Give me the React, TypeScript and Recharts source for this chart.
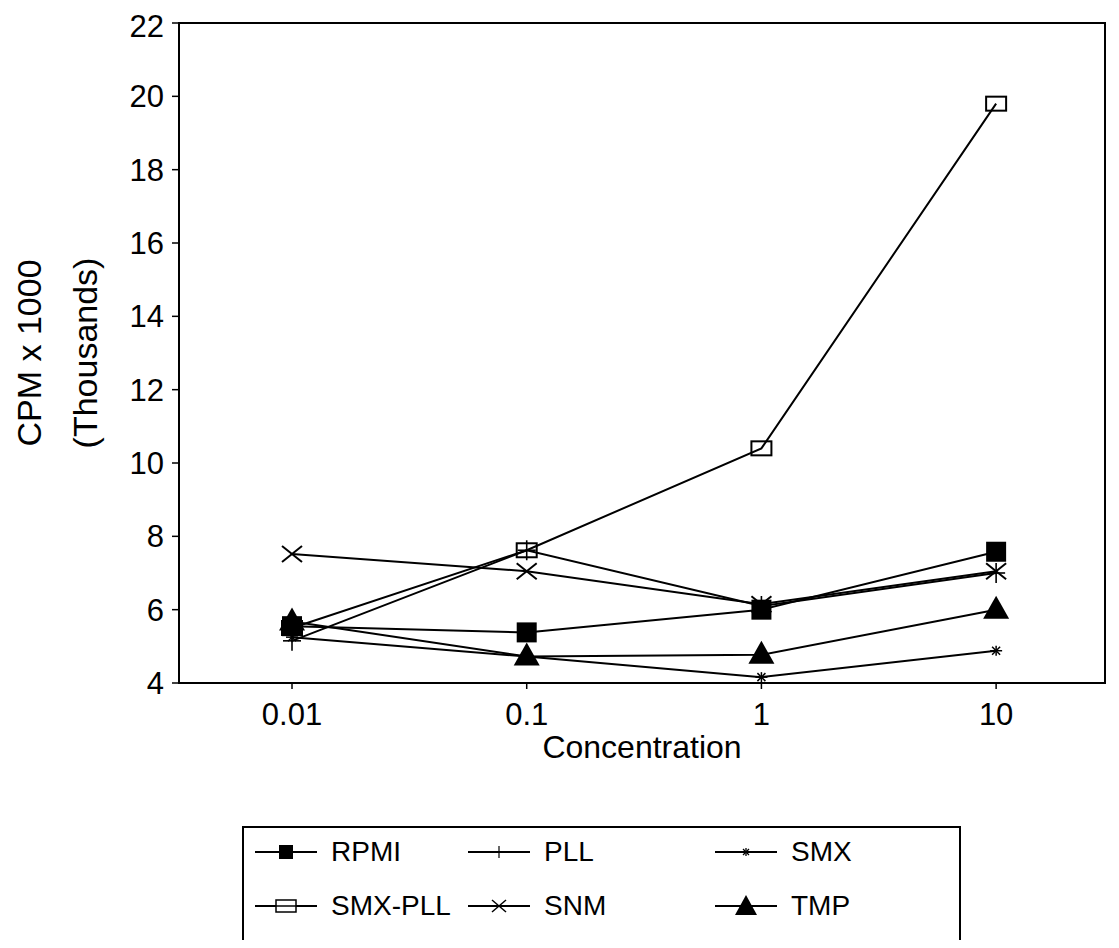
import React from 'react';
import { LineChart, Line, XAxis, YAxis, ReferenceArea, Legend, Label } from 'recharts';

const concentrations = [0.01, 0.1, 1, 10];
const rpmi = [5.55, 5.38, 6.0, 7.58];
const pll = [5.15, 7.62, 6.1, 7.0];
const smx = [5.25, 4.72, 4.16, 4.88];
const smxPll = [5.5, 7.62, 10.4, 19.8];
const snm = [7.52, 7.05, 6.15, 7.05];
const tmp = [5.68, 4.72, 4.77, 6.0];

const yTicks = [4, 6, 8, 10, 12, 14, 16, 18, 20, 22];
const xTicks = [0.01, 0.1, 1, 10];
const xDomain = [0.0033, 29.1];
const yDomain = [4, 22];

const FONT = '"Liberation Sans", Arial, Helvetica, sans-serif';

type Shape = 'square' | 'plus' | 'star' | 'openRect' | 'cross' | 'triangle';

const seriesDefs: { key: string; name: string; values: number[]; shape: Shape }[] = [
  { key: 'rpmi', name: 'RPMI', values: rpmi, shape: 'square' },
  { key: 'pll', name: 'PLL', values: pll, shape: 'plus' },
  { key: 'smx', name: 'SMX', values: smx, shape: 'star' },
  { key: 'smxPll', name: 'SMX-PLL', values: smxPll, shape: 'openRect' },
  { key: 'snm', name: 'SNM', values: snm, shape: 'cross' },
  { key: 'tmp', name: 'TMP', values: tmp, shape: 'triangle' },
];

const data = concentrations.map((c, i) => {
  const row: Record<string, number> = { conc: c };
  seriesDefs.forEach((s) => {
    row[s.key] = s.values[i];
  });
  return row;
});

function Marker({ shape, cx, cy }: { shape: Shape; cx: number; cy: number }) {
  if (cx == null || cy == null) return null;
  switch (shape) {
    case 'square':
      return <rect x={cx - 10} y={cy - 10} width={20} height={20} fill="#000" />;
    case 'plus':
      return (
        <g stroke="#000" strokeWidth={1.6}>
          <line x1={cx - 9} y1={cy} x2={cx + 9} y2={cy} />
          <line x1={cx} y1={cy - 10} x2={cx} y2={cy + 10} />
        </g>
      );
    case 'star':
      return (
        <g stroke="#000" strokeWidth={1.5}>
          <line x1={cx - 6} y1={cy} x2={cx + 6} y2={cy} />
          <line x1={cx - 4} y1={cy - 4} x2={cx + 4} y2={cy + 4} />
          <line x1={cx - 4} y1={cy + 4} x2={cx + 4} y2={cy - 4} />
          <line x1={cx} y1={cy - 5} x2={cx} y2={cy + 5} />
        </g>
      );
    case 'openRect':
      return (
        <g stroke="#000" fill="none" strokeWidth={2}>
          <rect x={cx - 10} y={cy - 7} width={20} height={14} />
        </g>
      );
    case 'cross':
      return (
        <g stroke="#000" strokeWidth={2}>
          <line x1={cx - 10} y1={cy - 8} x2={cx + 10} y2={cy + 8} />
          <line x1={cx - 10} y1={cy + 8} x2={cx + 10} y2={cy - 8} />
        </g>
      );
    case 'triangle':
      return <polygon points={`${cx},${cy - 14} ${cx + 13},${cy + 9} ${cx - 13},${cy + 9}`} fill="#000" />;
    default:
      return null;
  }
}

function LegendSample({ shape }: { shape: Shape }) {
  return (
    <svg width={62} height={30} style={{ display: 'block' }}>
      <line x1={0} y1={15} x2={62} y2={15} stroke="#000" strokeWidth={2} />
      {shape === 'openRect' ? (
        <g stroke="#000" fill="#fff" strokeWidth={1.5}>
          <rect x={21} y={9} width={20} height={12} />
          <line x1={21} y1={15} x2={41} y2={15} />
        </g>
      ) : shape === 'square' ? (
        <rect x={24} y={8} width={14} height={14} fill="#000" />
      ) : shape === 'triangle' ? (
        <polygon points="31,4 42,24 20,24" fill="#000" />
      ) : shape === 'cross' ? (
        <g stroke="#000" strokeWidth={1.5}>
          <line x1={24} y1={9} x2={38} y2={21} />
          <line x1={24} y1={21} x2={38} y2={9} />
        </g>
      ) : shape === 'plus' ? (
        <g stroke="#000" strokeWidth={1.2}>
          <line x1={31} y1={9} x2={31} y2={21} />
        </g>
      ) : (
        <g stroke="#000" strokeWidth={1.3}>
          <line x1={31} y1={11} x2={31} y2={19} />
          <line x1={28} y1={12} x2={34} y2={18} />
          <line x1={28} y1={18} x2={34} y2={12} />
        </g>
      )}
    </svg>
  );
}

const legendCols = [13, 226, 473];
const legendRows = [26, 80];

function LegendBox() {
  return (
    <div
      style={{
        position: 'relative',
        width: 719,
        height: 116,
        border: '2px solid #000',
        boxSizing: 'border-box',
        background: '#fff',
        fontFamily: FONT,
        fontSize: 28,
        color: '#000',
      }}
    >
      {seriesDefs.map((s, i) => {
        const col = i % 3;
        const row = Math.floor(i / 3);
        return (
          <div
            key={s.key}
            style={{
              position: 'absolute',
              left: legendCols[col] - 2,
              top: legendRows[row] - 2 - 15,
              height: 30,
              display: 'flex',
              alignItems: 'center',
              whiteSpace: 'nowrap',
            }}
          >
            <LegendSample shape={s.shape} />
            <span style={{ marginLeft: 14, lineHeight: '30px' }}>{s.name}</span>
          </div>
        );
      })}
    </div>
  );
}

function YLabel(props: any) {
  const cy = 345;
  const x1 = 21;
  const x2 = 77;
  return (
    <g fontFamily={FONT} fontSize={34} fill="#000">
      <text x={x1} y={cy} textAnchor="middle" dominantBaseline="central" transform={`rotate(-90, ${x1}, ${cy})`}>
        CPM x 1000
      </text>
      <text x={x2} y={cy} textAnchor="middle" dominantBaseline="central" transform={`rotate(-90, ${x2}, ${cy})`}>
        (Thousands)
      </text>
    </g>
  );
}

function XLabel(props: any) {
  const vb = props.viewBox || {};
  const cx = vb.x + vb.width / 2;
  return (
    <text x={cx} y={739} textAnchor="middle" dominantBaseline="central" fontFamily={FONT} fontSize={32} fill="#000">
      Concentration
    </text>
  );
}

export default function App() {
  return (
    <div style={{ width: 1103, height: 932, background: '#fff' }}>
      <LineChart width={1103} height={932} data={data} margin={{ top: 15, right: 6, left: 0, bottom: 0 }}>
        <ReferenceArea
          x1={xDomain[0]}
          x2={xDomain[1]}
          y1={yDomain[0]}
          y2={yDomain[1]}
          fill="none"
          stroke="#000"
          strokeWidth={2}
          ifOverflow="visible"
        />
        <XAxis
          dataKey="conc"
          type="number"
          scale="log"
          domain={xDomain}
          ticks={xTicks}
          allowDataOverflow
          height={257}
          axisLine={{ stroke: '#000', strokeWidth: 2 }}
          tickLine={{ stroke: '#000', strokeWidth: 1.5 }}
          tickSize={6}
          tickMargin={14}
          tick={{ fill: '#000', fontSize: 31, fontFamily: FONT }}
          tickFormatter={(v: number) => String(v)}
        >
          <Label content={<XLabel />} />
        </XAxis>
        <YAxis
          type="number"
          domain={yDomain}
          ticks={yTicks}
          allowDataOverflow
          width={171}
          axisLine={{ stroke: '#000', strokeWidth: 2 }}
          tickLine={{ stroke: '#000', strokeWidth: 1.5 }}
          tickSize={7}
          tickMargin={8}
          tick={{ fill: '#000', fontSize: 31, fontFamily: FONT }}
        >
          <Label content={<YLabel />} />
        </YAxis>
        {seriesDefs.map((s) => (
          <Line
            key={s.key}
            dataKey={s.key}
            name={s.name}
            type="linear"
            stroke="#000"
            strokeWidth={2}
            isAnimationActive={false}
            dot={(p: any) => <Marker key={`${s.key}-${p.index}`} shape={s.shape} cx={p.cx} cy={p.cy} />}
            activeDot={false}
            legendType="line"
          />
        ))}
        <Legend
          layout="vertical"
          align="center"
          verticalAlign="middle"
          content={() => <LegendBox />}
          wrapperStyle={{ position: 'absolute', left: 234, top: 818, width: 719, height: 116 }}
        />
      </LineChart>
    </div>
  );
}
